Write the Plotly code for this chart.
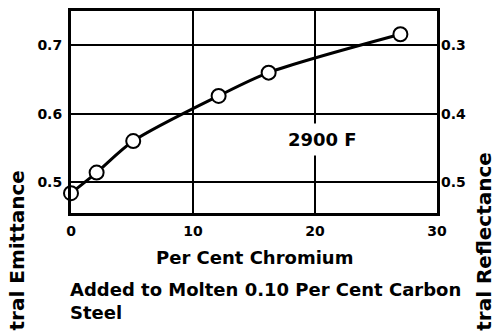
import plotly.graph_objects as go

chromium = [0, 2.1, 5.1, 12.1, 16.2, 27.0]
emittance = [0.484, 0.514, 0.560, 0.626, 0.660, 0.716]
x_ticks = [0, 10, 20, 30]
y_ticks = [0.5, 0.6, 0.7]
refl_ticks = [0.3, 0.4, 0.5]

FONT = "DejaVu Sans"
W, H = 495, 332
ML, MR, MT, MB = 71, 58, 8, 119

fig = go.Figure()
fig.add_trace(go.Scatter(
    x=chromium, y=emittance, mode="lines+markers",
    line=dict(color="black", width=3, shape="spline", smoothing=0.8),
    marker=dict(size=14, color="white", line=dict(color="black", width=2)),
    showlegend=False, cliponaxis=False))
fig.add_trace(go.Scatter(x=[0], y=[0.5], yaxis="y2", mode="markers",
                         marker=dict(opacity=0), showlegend=False, hoverinfo="skip"))

tick_font = dict(size=14, family=FONT, weight="bold", color="black")
fig.update_layout(
    width=W, height=H, margin=dict(l=ML, r=MR, t=MT, b=MB),
    paper_bgcolor="white", plot_bgcolor="white",
    font=dict(family=FONT, size=14, color="black"),
    xaxis=dict(range=[0, 30], tickvals=x_ticks, ticktext=[str(v) for v in x_ticks],
               showgrid=True, gridcolor="black", gridwidth=2, zeroline=False,
               showline=True, linecolor="black", linewidth=3, mirror=True,
               ticks="", ticklabelstandoff=3, tickfont=tick_font),
    yaxis=dict(range=[0.455, 0.75], tickvals=y_ticks, ticktext=[str(v) for v in y_ticks],
               showgrid=True, gridcolor="black", gridwidth=2, zeroline=False,
               showline=True, linecolor="black", linewidth=3, mirror=True,
               ticks="", ticklabelstandoff=3, tickfont=tick_font),
    yaxis2=dict(overlaying="y", side="right", range=[1 - 0.455, 1 - 0.75],
                tickvals=refl_ticks, ticktext=[str(v) for v in refl_ticks],
                showgrid=False, zeroline=False, ticks="", ticklabelstandoff=3,
                tickfont=tick_font),
)

ann_font = dict(family=FONT, size=18, color="black", weight="bold")
side_font = dict(family=FONT, size=20, color="black", weight="bold")


def px_to_plot(px, py):
    return (px - ML) / (W - ML - MR), (H - MB - py) / (H - MT - MB)


fig.add_annotation(text="2900 F", x=20.6, y=0.5626, xref="x", yref="y",
                   showarrow=False, font=dict(family=FONT, size=18, weight="bold"),
                   bgcolor="white", borderpad=5)
x, y = px_to_plot(254, 258)
fig.add_annotation(text="Per Cent Chromium", x=x, y=y, xref="paper", yref="paper",
                   xanchor="center", yanchor="middle", showarrow=False, font=ann_font)
x, y = px_to_plot(68, 291)
fig.add_annotation(text="Added to Molten 0.10 Per Cent Carbon", x=x, y=y,
                   xref="paper", yref="paper", xanchor="left", yanchor="middle",
                   showarrow=False, font=ann_font)
x, y = px_to_plot(68, 314)
fig.add_annotation(text="Steel", x=x, y=y, xref="paper", yref="paper",
                   xanchor="left", yanchor="middle", showarrow=False, font=ann_font)
x, y = px_to_plot(17, 168)
fig.add_annotation(text="Normal Spectral Emittance", x=x, y=y,
                   xref="paper", yref="paper", xanchor="center", yanchor="top",
                   textangle=-90, showarrow=False, font=side_font)
x, y = px_to_plot(484, 150)
fig.add_annotation(text="Normal Spectral Reflectance", x=x, y=y,
                   xref="paper", yref="paper", xanchor="center", yanchor="top",
                   textangle=-90, showarrow=False, font=side_font)

fig.write_html("out.html")
